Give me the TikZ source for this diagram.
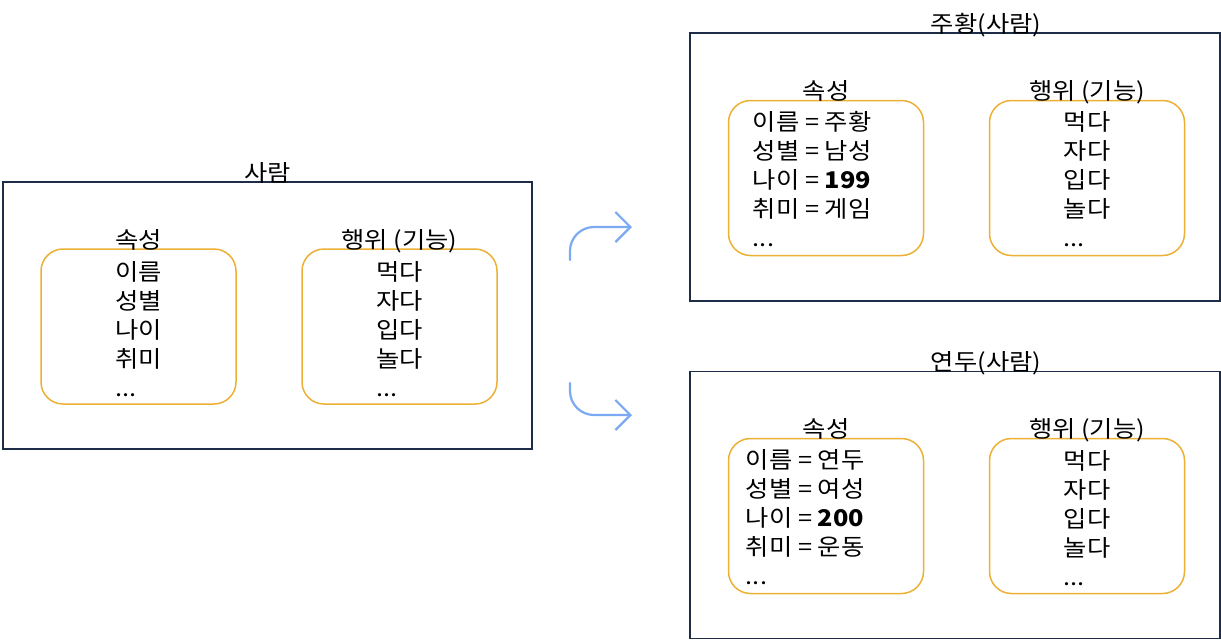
\documentclass[tikz,border=0pt]{standalone}
\usepackage{fontspec}
\setmainfont{Noto Sans CJK KR}[FakeStretch=1.1]
\usepackage{xcolor}
\definecolor{frameNavy}{HTML}{1E2D47}
\definecolor{slotOrange}{HTML}{ECB034}
\definecolor{flowBlue}{HTML}{7BA9F2}
\usepackage{tikz}
\usetikzlibrary{
    arrows.meta,
    positioning,
    calc
}
\tikzset{
    % Base style for all texts
    plain text/.style={
        font=\fontsize{23}{29}\selectfont,
        text=black,
        inner sep=0pt,
    },
    % Outer frame of a class or an object
    frame/.style={
        rectangle,
        draw=frameNavy,
        line width=1.6pt,
        inner sep=0pt,
        minimum width=530pt,
        minimum height=267pt,
    },
    % Rounded slot for attributes and behaviours
    slot/.style={
        rectangle,
        rounded corners=22pt,
        draw=slotOrange,
        line width=1.5pt,
        inner sep=0pt,
        minimum width=195pt,
        minimum height=155pt,
    },
    % Heading that sits on the top edge of a box
    heading/.style={
        plain text,
        anchor=south,
        text depth=0pt,
    },
    % Lines of text inside a slot
    slot list/.style={
        plain text,
        anchor=north,
        align=left,
    },
    % Curved arrow from the class to its objects
    arrow/.style={
        -{Straight Barb[length=15pt, width=30pt]},
        line width=2.2pt,
        draw=flowBlue,
        line cap=round,
        rounded corners=24pt,
    },
}

\begin{document}
\begin{tikzpicture}[x=1pt, y=-1pt]
    \useasboundingbox (0,0) rectangle (1221,641);

    % class
    \node (person) [frame, minimum width=529pt] at (267.5,315.5) {};
    \node (person title) [heading] at (person.north) {사람};
    \node (person attr) [slot] at ($(person.center)+(-129,11)$) {};
    \node (person act) [slot] at ($(person.center)+(132,11)$) {};
    \node (person attr title) [heading] at (person attr.north) {속성};
    \node (person act title) [heading] at (person act.north) {행위 (기능)};
    \node (person attr list) [slot list] at ($(person attr.north)+(0,13)$) {이름\\성별\\나이\\취미\\...};
    \node (person act list) [slot list] at ($(person act.north)+(0,13)$) {먹다\\자다\\입다\\놀다\\...};

    % object 1
    \node (jh) [frame, minimum height=268pt] at (955,167) {};
    \node (jh title) [heading] at ($(jh.north)+(31,0)$) {주황(사람)};
    \node (jh attr) [slot] at ($(jh.center)+(-129,11)$) {};
    \node (jh act) [slot] at ($(jh.center)+(132,11)$) {};
    \node (jh attr title) [heading] at (jh attr.north) {속성};
    \node (jh act title) [heading] at (jh act.north) {행위 (기능)};
    \node (jh attr list) [slot list, anchor=north west] at ($(jh attr.north west)+(25,11)$) {이름 = 주황\\성별 = 남성\\나이 = \textbf{199}\\취미 = 게임\\...};
    \node (jh act list) [slot list] at ($(jh act.north)+(0,12)$) {먹다\\자다\\입다\\놀다\\...};

    % object 2
    \node (yd) [frame] at (955,505) {};
    \node (yd title) [heading] at ($(yd.north)+(31,0)$) {연두(사람)};
    \node (yd attr) [slot] at ($(yd.center)+(-129,11)$) {};
    \node (yd act) [slot] at ($(yd.center)+(132,11)$) {};
    \node (yd attr title) [heading] at (yd attr.north) {속성};
    \node (yd act title) [heading] at (yd act.north) {행위 (기능)};
    \node (yd attr list) [slot list, anchor=north west] at ($(yd attr.north west)+(18,12)$) {이름 = 연두\\성별 = 여성\\나이 = \textbf{200}\\취미 = 운동\\...};
    \node (yd act list) [slot list] at ($(yd act.north)+(0,13)$) {먹다\\자다\\입다\\놀다\\...};

    % arrows
    \coordinate (fork top) at (570,260);
    \coordinate (to jh) at (632,227);
    \coordinate (fork bottom) at (570,383);
    \coordinate (to yd) at (632,415);
    \draw [arrow] (fork top) |- (to jh);
    \draw [arrow] (fork bottom) |- (to yd);
\end{tikzpicture}
\end{document}
